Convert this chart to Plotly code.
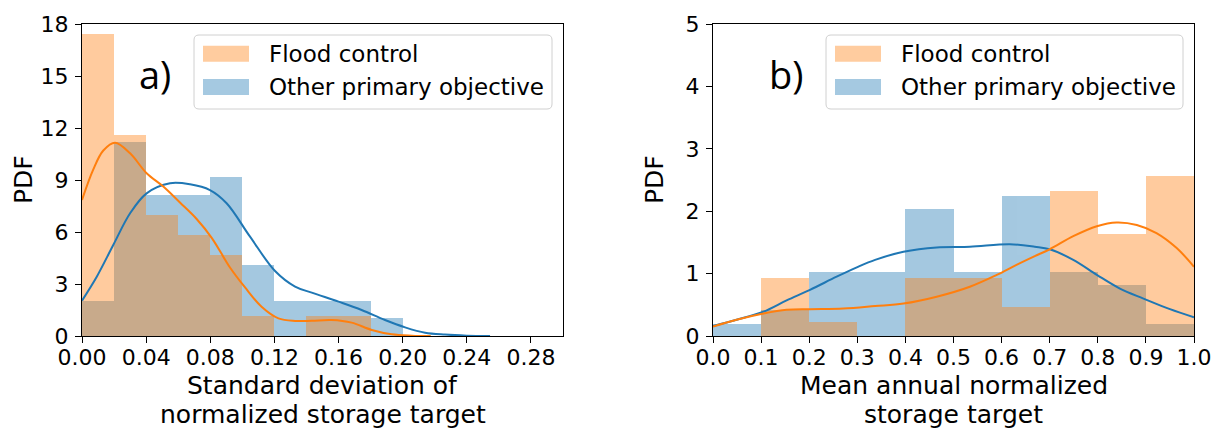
import plotly.graph_objects as go

# ---- histogram data (density per bin) ----
sd_bin_width = 0.02
sd_flood_density = [17.45, 11.6, 6.98, 5.83, 4.65, 1.16, 0.0, 1.16, 1.16]
sd_other_density = [2.04, 11.22, 8.16, 8.16, 9.18, 4.08, 2.04, 2.04, 2.04, 1.02]

mean_bin_width = 0.1
mean_flood_density = [0.0, 0.93, 0.23, 0.0, 0.93, 0.93, 0.47, 2.33, 1.63, 2.56]
mean_other_density = [0.20, 0.41, 1.02, 1.02, 2.04, 1.02, 2.24, 1.02, 0.82, 0.20]

# ---- kernel density curves ----
sd_flood_kde_x = [0.0, 0.007, 0.0133, 0.0206, 0.030, 0.0403, 0.0507, 0.0611, 0.0715, 0.0810,
                  0.0923, 0.1017, 0.112, 0.1225, 0.1329, 0.1433, 0.1557, 0.1682, 0.1807,
                  0.1932, 0.2056, 0.2175]
sd_flood_kde_y = [7.85, 9.6, 10.7, 11.15, 10.54, 9.39, 8.62, 7.7, 6.75, 5.65,
                  3.95, 2.8, 1.69, 1.02, 0.87, 0.88, 0.92, 0.77, 0.35,
                  0.1, 0.02, 0.0]

sd_other_kde_x = [0.0, 0.0092, 0.0195, 0.030, 0.0403, 0.0549, 0.0674, 0.0798, 0.0902, 0.1048,
                  0.1204, 0.1329, 0.1433, 0.16, 0.1744, 0.189, 0.2015, 0.214, 0.2264, 0.24, 0.2545]
sd_other_kde_y = [2.04, 3.42, 5.25, 7.08, 8.23, 8.81, 8.75, 8.42, 7.66, 5.73,
                  3.75, 2.85, 2.5, 1.98, 1.5, 0.92, 0.5, 0.19, 0.08, 0.02, 0.0]

mean_flood_kde_x = [0.0, 0.049, 0.105, 0.153, 0.2017, 0.271, 0.337, 0.396, 0.465, 0.534,
                    0.59, 0.631, 0.669, 0.70, 0.749, 0.798, 0.839, 0.881, 0.922, 0.964, 1.0]
mean_flood_kde_y = [0.15, 0.26, 0.36, 0.42, 0.43, 0.44, 0.48, 0.52, 0.63, 0.79,
                    0.98, 1.14, 1.28, 1.39, 1.60, 1.76, 1.82, 1.78, 1.65, 1.41, 1.11]

mean_other_kde_x = [0.0, 0.049, 0.105, 0.153, 0.2017, 0.257, 0.299, 0.337, 0.396, 0.465,
                    0.534, 0.617, 0.669, 0.70, 0.749, 0.798, 0.846, 0.895, 0.95, 1.0]
mean_other_kde_y = [0.16, 0.26, 0.39, 0.57, 0.74, 0.95, 1.1, 1.22, 1.35, 1.42,
                    1.43, 1.47, 1.43, 1.39, 1.22, 0.98, 0.76, 0.60, 0.43, 0.30]

series_names = ["Flood control", "Other primary objective"]
panel_labels = ["a)", "b)"]
x_title_lines = [["Standard deviation of", "normalized storage target"],
                 ["Mean annual normalized", "storage target"]]
y_title = "PDF"

BLUE = "#1f77b4"
ORANGE = "#ff7f0e"
FONT = "DejaVu Sans"

W, H = 1217, 433
# plot-area boxes in pixels: (left, right, top, bottom)
boxes = [(82, 563, 24, 336), (713, 1194, 24, 336)]


def px_x(p):
    return p / W


def px_y(p):
    return 1 - p / H


fig = go.Figure()


def centers(n, w):
    return [w * (i + 0.5) for i in range(n)]


def add_panel(xa, ya, bw, other, flood, okx, oky, fkx, fky):
    fig.add_trace(go.Bar(x=centers(len(other), bw), y=other, width=bw,
                         marker=dict(color=BLUE, line=dict(width=0)), opacity=0.4,
                         xaxis=xa, yaxis=ya, showlegend=False))
    fig.add_trace(go.Bar(x=centers(len(flood), bw), y=flood, width=bw,
                         marker=dict(color=ORANGE, line=dict(width=0)), opacity=0.4,
                         xaxis=xa, yaxis=ya, showlegend=False))
    fig.add_trace(go.Scatter(x=okx, y=oky, mode="lines",
                             line=dict(color=BLUE, width=2, shape="spline", smoothing=1.0),
                             xaxis=xa, yaxis=ya, showlegend=False))
    fig.add_trace(go.Scatter(x=fkx, y=fky, mode="lines",
                             line=dict(color=ORANGE, width=2, shape="spline", smoothing=1.0),
                             xaxis=xa, yaxis=ya, showlegend=False))


add_panel("x", "y", sd_bin_width, sd_other_density, sd_flood_density,
          sd_other_kde_x, sd_other_kde_y, sd_flood_kde_x, sd_flood_kde_y)
add_panel("x2", "y2", mean_bin_width, mean_other_density, mean_flood_density,
          mean_other_kde_x, mean_other_kde_y, mean_flood_kde_x, mean_flood_kde_y)

TICK_SIZE = 22
TITLE_SIZE = 25
axis_common = dict(showgrid=False, zeroline=False, showline=True, linecolor="black",
                   linewidth=1.2, mirror=True, ticks="outside", ticklen=6, tickwidth=1.2,
                   tickcolor="black", automargin=False,
                   tickfont=dict(family=FONT, size=TICK_SIZE, color="black"))
title_font = dict(family=FONT, size=TITLE_SIZE, color="black")

(l1, r1, t1, b1), (l2, r2, t2, b2) = boxes
fig.update_layout(
    width=W, height=H, margin=dict(l=0, r=0, t=0, b=0, autoexpand=False),
    paper_bgcolor="white", plot_bgcolor="white", barmode="overlay", bargap=0,
    xaxis=dict(domain=[px_x(l1), px_x(r1)], range=[0, 0.30],
               tickvals=[0, 0.04, 0.08, 0.12, 0.16, 0.20, 0.24, 0.28],
               tickformat=".2f", anchor="y", ticklabelstandoff=-5, **axis_common),
    yaxis=dict(domain=[px_y(b1), px_y(t1)], range=[0, 18], tickvals=[0, 3, 6, 9, 12, 15, 18],
               anchor="x", ticklabelstandoff=2, **axis_common),
    xaxis2=dict(domain=[px_x(l2), px_x(r2)], range=[0, 1.0], tickvals=[i / 10 for i in range(11)],
                tickformat=".1f", anchor="y2", ticklabelstandoff=-5, **axis_common),
    yaxis2=dict(domain=[px_y(b2), px_y(t2)], range=[0, 5], tickvals=[0, 1, 2, 3, 4, 5],
                anchor="x2", ticklabelstandoff=2, **axis_common),
)

# axis titles placed below / beside each panel (two lines under each x axis)
for (pl, pr, pt, pb), lines in zip(boxes, x_title_lines):
    for line, yc in zip(lines, [385, 414]):
        fig.add_annotation(x=px_x((pl + pr) / 2), y=px_y(yc), xref="paper", yref="paper",
                           text=line, showarrow=False, xanchor="center", yanchor="middle",
                           font=title_font)
    fig.add_annotation(x=px_x(pl - 59), y=px_y((pt + pb) / 2), xref="paper", yref="paper",
                       text=y_title, showarrow=False, textangle=-90,
                       xanchor="center", yanchor="middle", font=title_font)

# legend boxes, drawn per panel
legend_boxes = [(194, 552, 35, 109), (826, 1183, 35, 109)]
for (lx0, lx1, ly0, ly1), lbl, (pl, pr, pt, pb) in zip(legend_boxes, panel_labels, boxes):
    r = 5
    x0, x1 = px_x(lx0), px_x(lx1)
    y0, y1 = px_y(ly1), px_y(ly0)
    rx, ry = r / W, r / H
    path = (f"M{x0 + rx},{y0} L{x1 - rx},{y0} Q{x1},{y0} {x1},{y0 + ry} "
            f"L{x1},{y1 - ry} Q{x1},{y1} {x1 - rx},{y1} L{x0 + rx},{y1} "
            f"Q{x0},{y1} {x0},{y1 - ry} L{x0},{y0 + ry} Q{x0},{y0} {x0 + rx},{y0} Z")
    fig.add_shape(type="path", path=path, xref="paper", yref="paper",
                  fillcolor="rgba(255,255,255,0.8)", line=dict(color="#d0d0d0", width=1))
    for k, (name, col) in enumerate(zip(series_names, [ORANGE, BLUE])):
        top = ly0 + 10.7 + k * 33.3
        fig.add_shape(type="rect", xref="paper", yref="paper",
                      x0=px_x(lx0 + 9), x1=px_x(lx0 + 55), y0=px_y(top + 16), y1=px_y(top),
                      fillcolor=col, opacity=0.4, line=dict(width=0))
        fig.add_annotation(x=px_x(lx0 + 73), y=px_y(top + 8), xref="paper", yref="paper",
                           text=name, showarrow=False, xanchor="left", yanchor="middle",
                           font=dict(family=FONT, size=23, color="black"))
    fig.add_annotation(x=px_x(pl + 73), y=px_y(74), xref="paper", yref="paper",
                       text=lbl, showarrow=False, xanchor="center", yanchor="middle",
                       font=dict(family="Open Sans", size=38, color="black"))

fig.write_html("out.html")
